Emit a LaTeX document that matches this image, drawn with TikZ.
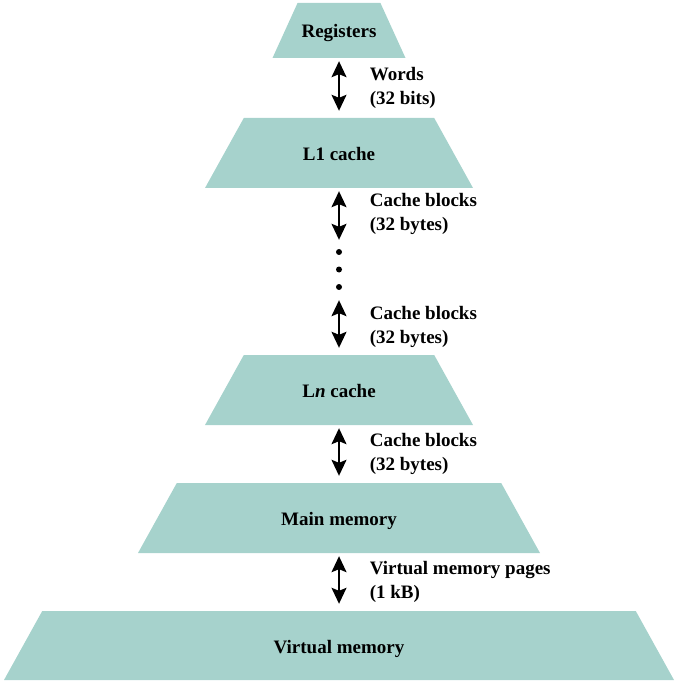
\documentclass[tikz,border=0pt]{standalone}
\usepackage{fontspec}
\setmainfont{Liberation Serif}
\usetikzlibrary{shapes.geometric,arrows.meta,positioning}
\definecolor{tier}{RGB}{166,210,204}
\tikzset{level/.style={trapezium, trapezium angle=61, trapezium stretches body=true, fill=tier, text height=19pt, text depth=4pt, inner xsep=0pt, inner ysep=23.5pt, font=\bfseries}, dbl/.style={{Stealth[length=16pt,width=15pt,inset=3pt]}-{Stealth[length=16pt,width=15pt,inset=3pt]}, line width=1.6pt, shorten <=3pt, shorten >=7pt}, tag/.style={anchor=west, xshift=30pt, inner sep=0pt, align=left, font=\bfseries}}

\begin{document}
\begin{tikzpicture}[x=1pt, y=-1pt]
    \fontsize{19}{23.5}\selectfont
    \useasboundingbox (0,0) rectangle (679,684);
    \node[level, trapezium angle=65.5, inner ysep=16pt, minimum width=133pt] (reg) at (339,30.5) {Registers};
    \node[level, minimum width=268pt] (l1) at (339,153) {L1 cache};
    \node[inner sep=0pt, minimum width=1pt, minimum height=59pt] (dots) at (339,269.5) {};
    \node[level, minimum width=268pt] (ln) at (339,390) {L\textit{n} cache};
    \node[level, minimum width=402pt] (mm) at (339,518) {Main memory};
    \node[level, inner ysep=23pt, minimum width=670pt] (vm) at (339,645.5) {Virtual memory};
    \foreach \d in {-17.5,0,17.5}
        \fill (dots.center) ++(0,\d) circle (3pt);
    \draw[dbl] (reg) -- node[tag] {Words\\(32 bits)} (l1);
    \draw[dbl, shorten >=0pt] (l1) -- node[tag] {Cache blocks\\(32 bytes)} (dots);
    \draw[dbl, shorten <=1pt] (dots) -- node[tag] {Cache blocks\\(32 bytes)} (ln);
    \draw[dbl] (ln) -- node[tag] {Cache blocks\\(32 bytes)} (mm);
    \draw[dbl] (mm) -- node[tag] {Virtual memory pages\\(1 kB)} (vm);
\end{tikzpicture}
\end{document}
